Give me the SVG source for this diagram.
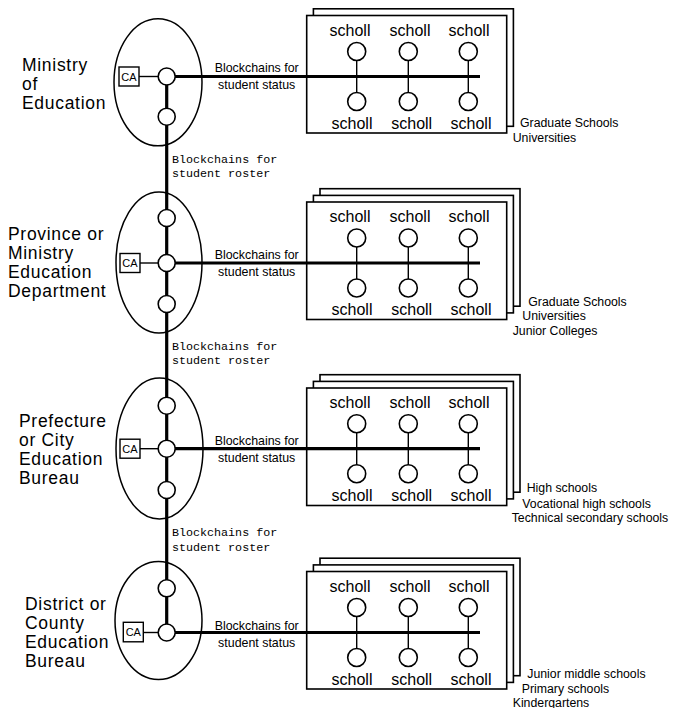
<svg xmlns="http://www.w3.org/2000/svg" width="688" height="708" viewBox="0 0 688 708">
<style>
.ell{fill:none;stroke:#000;stroke-width:1.5}
.card{fill:#fff;stroke:#000;stroke-width:1.6}
.ca{fill:#fff;stroke:#000;stroke-width:1.4}
.nd{fill:#fff;stroke:#000;stroke-width:1.6}
.thick{stroke:#000;stroke-width:3.2;fill:none}
.thin{stroke:#000;stroke-width:1.4;fill:none}
.lbl{font-family:"Liberation Sans",Arial,sans-serif;font-size:17.5px;letter-spacing:0.7px;fill:#000}
.sch{font-family:"Liberation Sans",Arial,sans-serif;font-size:16px;fill:#000;text-anchor:middle}
.st{font-family:"Liberation Sans",Arial,sans-serif;font-size:12.4px;fill:#000;text-anchor:middle}
.ro{font-family:"Liberation Mono","DejaVu Sans Mono",monospace;font-size:11.7px;fill:#000}
.side{font-family:"Liberation Sans",Arial,sans-serif;font-size:12.3px;fill:#000}
.cat{font-family:"Liberation Sans",Arial,sans-serif;font-size:11px;fill:#000;text-anchor:middle}
</style>
<rect width="688" height="708" fill="#fff"/>

<!-- school card stacks -->
<g id="stack1">
  <rect class="card" x="313.4" y="8.8" width="200" height="117.5"/>
  <rect class="card" x="306.7" y="15.5" width="200" height="117.5"/>
</g>
<g id="stack2">
  <rect class="card" x="320" y="188.7" width="200" height="117.5"/>
  <rect class="card" x="313.4" y="195.4" width="200" height="117.5"/>
  <rect class="card" x="306.7" y="202" width="200" height="117.5"/>
</g>
<g id="stack3">
  <rect class="card" x="320" y="374.7" width="200" height="117.5"/>
  <rect class="card" x="313.4" y="381.4" width="200" height="117.5"/>
  <rect class="card" x="306.7" y="388" width="200" height="117.5"/>
</g>
<g id="stack4">
  <rect class="card" x="320" y="558.2" width="200" height="117.5"/>
  <rect class="card" x="313.4" y="564.9" width="200" height="117.5"/>
  <rect class="card" x="306.7" y="571.5" width="200" height="117.5"/>
</g>

<!-- tiers -->
<g id="ministry">
  <ellipse class="ell" cx="158" cy="82.3" rx="44" ry="63.5"/>
  <text class="lbl" x="22" y="71">Ministry</text>
  <text class="lbl" x="22" y="90">of</text>
  <text class="lbl" x="22" y="109">Education</text>
</g>
<g id="province">
  <ellipse class="ell" cx="159" cy="262.5" rx="43" ry="70.5"/>
  <text class="lbl" x="8" y="239.5">Province or</text>
  <text class="lbl" x="8" y="258.5">Ministry</text>
  <text class="lbl" x="8" y="277.5">Education</text>
  <text class="lbl" x="8" y="296.5">Department</text>
</g>
<g id="prefecture">
  <ellipse class="ell" cx="159.5" cy="448.5" rx="43.5" ry="70.5"/>
  <text class="lbl" x="19" y="427">Prefecture</text>
  <text class="lbl" x="19" y="446">or City</text>
  <text class="lbl" x="19" y="465">Education</text>
  <text class="lbl" x="19" y="484">Bureau</text>
</g>
<g id="district">
  <ellipse class="ell" cx="158.5" cy="620.5" rx="43.5" ry="59"/>
  <text class="lbl" x="25" y="610">District or</text>
  <text class="lbl" x="25" y="629">County</text>
  <text class="lbl" x="25" y="648">Education</text>
  <text class="lbl" x="25" y="667">Bureau</text>
</g>

<!-- connectors -->
<g id="connectors">
  <line class="thick" x1="166.7" y1="76.5" x2="166.7" y2="632.5"/>
  <line class="thick" x1="166.7" y1="76.5" x2="480" y2="76.5"/>
  <line class="thick" x1="166.7" y1="263" x2="480" y2="263"/>
  <line class="thick" x1="166.7" y1="448.7" x2="480" y2="448.7"/>
  <line class="thick" x1="166.7" y1="632.5" x2="480" y2="632.5"/>
  <line class="thin" x1="139" y1="76.5" x2="166" y2="76.5"/>
  <line class="thin" x1="140" y1="263" x2="166" y2="263"/>
  <line class="thin" x1="140" y1="448.7" x2="166" y2="448.7"/>
  <line class="thin" x1="143.3" y1="632.5" x2="166" y2="632.5"/>
  <g class="thin">
    <line x1="356.7" y1="51.5" x2="356.7" y2="101.5"/><line x1="408.3" y1="51.5" x2="408.3" y2="101.5"/><line x1="468.3" y1="51.5" x2="468.3" y2="101.5"/>
    <line x1="356.7" y1="238" x2="356.7" y2="288"/><line x1="408.3" y1="238" x2="408.3" y2="288"/><line x1="468.3" y1="238" x2="468.3" y2="288"/>
    <line x1="356.7" y1="423.7" x2="356.7" y2="473.7"/><line x1="408.3" y1="423.7" x2="408.3" y2="473.7"/><line x1="468.3" y1="423.7" x2="468.3" y2="473.7"/>
    <line x1="356.7" y1="607.5" x2="356.7" y2="657.5"/><line x1="408.3" y1="607.5" x2="408.3" y2="657.5"/><line x1="468.3" y1="607.5" x2="468.3" y2="657.5"/>
  </g>
  <text class="st" x="256.7" y="72">Blockchains for</text>
  <text class="st" x="256.7" y="89">student status</text>
  <text class="st" x="256.7" y="259">Blockchains for</text>
  <text class="st" x="256.7" y="276">student status</text>
  <text class="st" x="256.7" y="445">Blockchains for</text>
  <text class="st" x="256.7" y="462">student status</text>
  <text class="st" x="256.7" y="630">Blockchains for</text>
  <text class="st" x="256.7" y="647">student status</text>
  <text class="ro" x="172" y="163">Blockchains for</text>
  <text class="ro" x="172" y="177">student roster</text>
  <text class="ro" x="172" y="350">Blockchains for</text>
  <text class="ro" x="172" y="364">student roster</text>
  <text class="ro" x="172" y="536">Blockchains for</text>
  <text class="ro" x="172" y="550.5">student roster</text>
</g>

<!-- chain nodes and CA -->
<g id="ca1"><rect class="ca" x="119" y="67" width="20" height="19"/><text class="cat" x="129" y="80.5">CA</text></g>
<g id="ca2"><rect class="ca" x="120" y="253.5" width="20" height="19"/><text class="cat" x="130" y="267">CA</text></g>
<g id="ca3"><rect class="ca" x="120" y="439.2" width="20" height="19"/><text class="cat" x="130" y="452.7">CA</text></g>
<g id="ca4"><rect class="ca" x="123.3" y="622.3" width="20" height="19.5"/><text class="cat" x="133.3" y="636">CA</text></g>

<g id="chain-nodes">
  <circle class="nd" cx="166.7" cy="76.5" r="8.5"/>
  <circle class="nd" cx="166.7" cy="116.7" r="8.5"/>
  <circle class="nd" cx="166.7" cy="218" r="8.5"/>
  <circle class="nd" cx="166.7" cy="263" r="8.5"/>
  <circle class="nd" cx="166.7" cy="304" r="8.5"/>
  <circle class="nd" cx="166.7" cy="405.7" r="8.5"/>
  <circle class="nd" cx="166.7" cy="448.7" r="8.5"/>
  <circle class="nd" cx="166.7" cy="490" r="8.5"/>
  <circle class="nd" cx="166.7" cy="588.3" r="8.5"/>
  <circle class="nd" cx="166.7" cy="632.5" r="8.5"/>
</g>

<!-- schools -->
<g id="schools1">
  <circle class="nd" cx="356.7" cy="51.5" r="9"/><circle class="nd" cx="408.3" cy="51.5" r="9"/><circle class="nd" cx="468.3" cy="51.5" r="9"/>
  <circle class="nd" cx="356.7" cy="101.5" r="9"/><circle class="nd" cx="408.3" cy="101.5" r="9"/><circle class="nd" cx="468.3" cy="101.5" r="9"/>
  <text class="sch" x="350" y="35.5">scholl</text><text class="sch" x="410" y="35.5">scholl</text><text class="sch" x="469" y="35.5">scholl</text>
  <text class="sch" x="352" y="128.5">scholl</text><text class="sch" x="411.7" y="128.5">scholl</text><text class="sch" x="471" y="128.5">scholl</text>
  <text class="side" x="520" y="126.7">Graduate Schools</text>
  <text class="side" x="512.7" y="142.3">Universities</text>
</g>
<g id="schools2">
  <circle class="nd" cx="356.7" cy="238" r="9"/><circle class="nd" cx="408.3" cy="238" r="9"/><circle class="nd" cx="468.3" cy="238" r="9"/>
  <circle class="nd" cx="356.7" cy="288" r="9"/><circle class="nd" cx="408.3" cy="288" r="9"/><circle class="nd" cx="468.3" cy="288" r="9"/>
  <text class="sch" x="350" y="222">scholl</text><text class="sch" x="410" y="222">scholl</text><text class="sch" x="469" y="222">scholl</text>
  <text class="sch" x="352" y="315">scholl</text><text class="sch" x="411.7" y="315">scholl</text><text class="sch" x="471" y="315">scholl</text>
  <text class="side" x="528.3" y="305.7">Graduate Schools</text>
  <text class="side" x="522.3" y="319.7">Universities</text>
  <text class="side" x="512.7" y="335">Junior Colleges</text>
</g>
<g id="schools3">
  <circle class="nd" cx="356.7" cy="423.7" r="9"/><circle class="nd" cx="408.3" cy="423.7" r="9"/><circle class="nd" cx="468.3" cy="423.7" r="9"/>
  <circle class="nd" cx="356.7" cy="473.7" r="9"/><circle class="nd" cx="408.3" cy="473.7" r="9"/><circle class="nd" cx="468.3" cy="473.7" r="9"/>
  <text class="sch" x="350" y="407.7">scholl</text><text class="sch" x="410" y="407.7">scholl</text><text class="sch" x="469" y="407.7">scholl</text>
  <text class="sch" x="352" y="500.7">scholl</text><text class="sch" x="411.7" y="500.7">scholl</text><text class="sch" x="471" y="500.7">scholl</text>
  <text class="side" x="526.7" y="492.3">High schools</text>
  <text class="side" x="522.3" y="508">Vocational high schools</text>
  <text class="side" x="511.7" y="521.7">Technical secondary schools</text>
</g>
<g id="schools4">
  <circle class="nd" cx="356.7" cy="607.5" r="9"/><circle class="nd" cx="408.3" cy="607.5" r="9"/><circle class="nd" cx="468.3" cy="607.5" r="9"/>
  <circle class="nd" cx="356.7" cy="657.5" r="9"/><circle class="nd" cx="408.3" cy="657.5" r="9"/><circle class="nd" cx="468.3" cy="657.5" r="9"/>
  <text class="sch" x="350" y="591.5">scholl</text><text class="sch" x="410" y="591.5">scholl</text><text class="sch" x="469" y="591.5">scholl</text>
  <text class="sch" x="352" y="684.5">scholl</text><text class="sch" x="411.7" y="684.5">scholl</text><text class="sch" x="471" y="684.5">scholl</text>
  <text class="side" x="527.3" y="678">Junior middle schools</text>
  <text class="side" x="521.7" y="692.7">Primary schools</text>
  <text class="side" x="512.7" y="706.5">Kindergartens</text>
</g>
</svg>
